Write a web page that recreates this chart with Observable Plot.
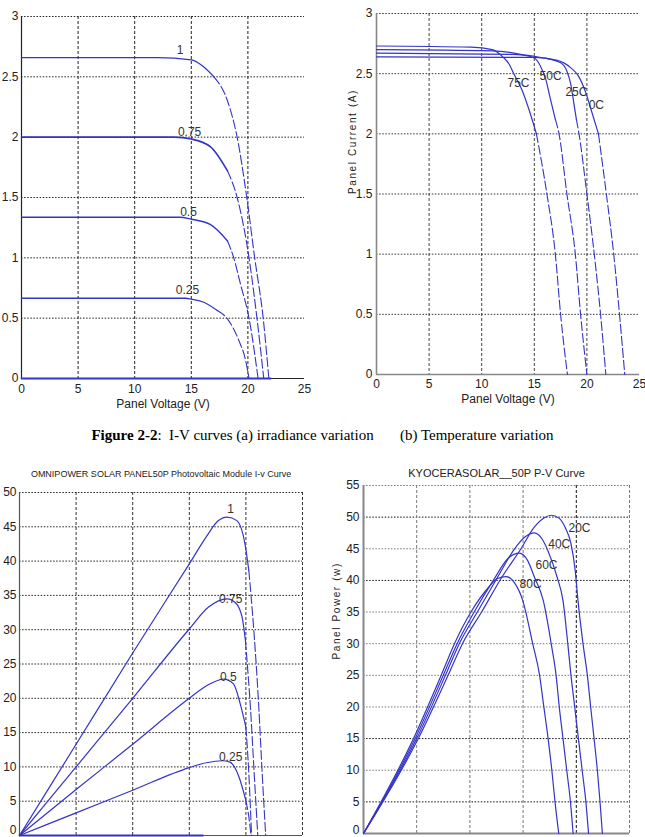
<!DOCTYPE html>
<html><head><meta charset="utf-8">
<script src="https://cdn.jsdelivr.net/npm/d3@7"></script>
<script src="https://cdn.jsdelivr.net/npm/@observablehq/plot@0.6"></script>
<style>
body{margin:0;background:#fff}
#page{position:relative;width:645px;height:837px;overflow:hidden;background:#fff}
.pl{position:absolute}
.cap{position:absolute;left:0;width:645px;top:427px;text-align:center;white-space:pre;
 font-family:"Liberation Serif","Times New Roman",serif;font-size:15px;color:#000}
</style></head>
<body><div id="page"></div>
<script>
// ---------------- data ----------------
const voltageTicks = [0, 5, 10, 15, 20, 25];
const currentTicks = [0, 0.5, 1, 1.5, 2, 2.5, 3];
const powerTicksA = [0, 5, 10, 15, 20, 25, 30, 35, 40, 45, 50];
const powerTicksB = [0, 5, 10, 15, 20, 25, 30, 35, 40, 45, 50, 55];

const irradianceLevels = ["1", "0.75", "0.5", "0.25", "0"];
const temperatureLevelsIV = ["75C", "50C", "25C", "0C"];
const temperatureLevelsPV = ["20C", "40C", "60C", "80C"];

// (a) I-V, irradiance  [V, I]
const ivIrr100 = [[0,2.66],[12,2.66],[15,2.64],[16,2.59],[17,2.5],[18.2,2.3],[19.05,2.0],[19.9,1.5],[20.6,1.0],[21.35,0.5],[21.85,0]];
const ivIrr075 = [[0,2.0],[13.5,2.0],[15,1.985],[16.7,1.92],[18.2,1.72],[19.05,1.5],[20.1,1.0],[20.8,0.5],[21.4,0]];
const ivIrr050 = [[0,1.336],[14,1.336],[15,1.32],[16.7,1.275],[18.2,1.14],[18.75,1.0],[19.35,0.78],[20.1,0.5],[20.9,0]];
const ivIrr025 = [[0,0.665],[14.5,0.665],[15,0.657],[16.1,0.632],[17.3,0.563],[18.3,0.48],[19.2,0.315],[19.8,0.15],[20.1,0]];
const ivIrr000 = [[0,0],[22,0]];
const ivIrrLabelV = [14.0, 14.85, 14.75, 14.66];
const ivIrrLabelI = [2.72, 2.04, 1.38, 0.73];

// (b) I-V, temperature  [V, I]
const ivT75 = [[0,2.73],[9,2.72],[11,2.70],[12,2.64],[12.6,2.58],[13.05,2.5],[13.85,2.36],[14.5,2.2],[15.2,2.0],[16.2,1.5],[17.0,1.0],[17.5,0.5],[18.15,0]];
const ivT50 = [[0,2.70],[11,2.69],[13.7,2.66],[15,2.63],[15.6,2.56],[16.1,2.45],[16.5,2.3],[17.0,2.12],[17.35,2.0],[18.1,1.5],[18.9,1.0],[19.4,0.5],[20.0,0]];
const ivT25 = [[0,2.67],[13,2.66],[15.9,2.63],[17.5,2.59],[18.1,2.52],[18.45,2.42],[18.75,2.26],[19.0,2.12],[19.25,2.0],[20.0,1.5],[20.7,1.0],[21.3,0.5],[21.8,0]];
const ivT0 = [[0,2.64],[15,2.635],[17.2,2.61],[18.45,2.55],[19.2,2.48],[19.9,2.34],[20.4,2.2],[21.1,2.0],[21.85,1.5],[22.55,1.0],[23.1,0.5],[23.6,0]];
const ivTLabelV = [13.5, 16.55, 19.0, 20.9];
const ivTLabelI = [2.42, 2.48, 2.35, 2.24];

// P-V, irradiance  [V, P]
const pvIrr100 = [[0,0],[5,13.3],[10,26.6],[15,39.6],[16.6,43.8],[17.5,45.8],[18.35,46.4],[19.2,45.9],[19.97,42.0],[20.26,38.6],[20.7,29.9],[21.14,18.7],[21.44,9.0],[21.75,0]];
const pvIrr075 = [[0,0],[5,10],[10,20],[15,30.1],[16.7,33.3],[18.35,34.5],[19.1,33.9],[19.67,31.8],[19.96,28.4],[20.1,25.5],[20.4,18.7],[20.7,10],[21.05,0]];
const pvIrr050 = [[0,0],[5,6.7],[10,13.3],[15,20.0],[16.6,21.9],[18.05,22.8],[18.9,22.1],[19.5,19.2],[20.0,15.8],[20.26,9.0],[20.5,0]];
const pvIrr025 = [[0,0],[5,3.3],[10,6.6],[15,9.9],[16.5,10.6],[17.9,10.9],[18.6,10.7],[19.4,8.5],[20.0,5.1],[20.3,2.2],[20.45,0]];
const pvIrr000 = [[0,0],[16.2,0]];
const pvIrrLabelV = [18.65, 18.65, 18.45, 18.65];
const pvIrrLabelP = [47.6, 34.4, 23.1, 11.4];

// P-V, temperature  [V, P]
const pvT20 = [[0,0],[5.15,15],[7.95,25],[9.3,30],[11.1,35],[13.0,40.5],[14.8,45],[16.0,48.3],[17.0,49.9],[17.64,50.3],[18.4,49.8],[19.0,48.2],[19.5,45.8],[19.9,41.5],[20.16,36.8],[20.63,30],[21.04,25],[21.35,20],[21.67,15],[21.98,10],[22.23,5],[22.45,0]];
const pvT40 = [[0,0],[5.0,15],[7.7,25],[9.0,30],[10.7,35],[12.6,40.5],[14.2,45],[15.2,46.9],[16.07,47.5],[16.8,46.5],[17.33,44.7],[18.2,40.5],[18.75,36.8],[19.2,30],[19.5,25],[19.85,20],[20.2,15],[20.55,10],[20.9,5],[21.15,0]];
const pvT60 = [[0,0],[4.85,15],[7.5,25],[8.8,30],[10.4,35],[12.2,40],[13.6,43.5],[14.65,44.3],[15.4,43.2],[16.07,40.5],[16.9,36.8],[17.64,30],[18.1,25],[18.4,20],[18.75,15],[19.1,10],[19.45,5],[19.7,0]];
const pvT80 = [[0,0],[4.7,15],[7.3,25],[8.55,30],[10.1,35],[11.8,39],[12.6,40.3],[13.4,40.6],[14.2,39.6],[14.97,36.8],[15.9,30],[16.55,25],[16.95,20],[17.35,15],[17.7,10],[18.0,5],[18.35,0]];
const pvTLabelV = [20.3, 18.4, 17.2, 15.7];
const pvTLabelP = [48.3, 45.8, 42.4, 39.4];

const captionBold = "Figure 2-2";
const captionRest = ":  I-V curves (a) irradiance variation       (b) Temperature variation";
const titleC = "OMNIPOWER SOLAR PANEL50P Photovoltaic Module I-v Curve";
const titleD = "KYOCERASOLAR__50P P-V Curve";
const xLabel = "Panel Voltage (V)";
const yLabelCurrent = "Panel Current (A)";
const yLabelPower = "Panel Power (w)";

// ---------------- drawing ----------------
const TICKFONT = '"Liberation Sans",Arial,Helvetica,sans-serif';
const SANS = '"Liberation Sans",Arial,sans-serif';
const BLUE = "#3434c8";
const page = document.getElementById("page");

function rows(pairs, key) { return pairs.map(([v, y]) => ({v, y, key})); }

// split a curve into its solid part and its steep (dashed-looking) part
function splitIV(r, frac) {
  const k = r.findIndex(d => d.y < frac * r[0].y);
  if (k < 0) return [r, []];
  return [r.slice(0, k + 1), r.slice(k)];
}
function splitPV(r, frac) {
  let p = 0; r.forEach((d, i) => { if (d.y > r[p].y) p = i; });
  const k = r.findIndex((d, i) => i > p && d.y < frac * r[p].y);
  if (k < 0) return [r, []];
  return [r.slice(0, k + 1), r.slice(k)];
}

function panel(cfg) {
  const labelOf = new Map(cfg.yTicks.map(t => [t, String(t)]));
  const marks = [];
  for (const g of cfg.gridYs) marks.push(Plot.gridY(g.ticks, {stroke: g.color, strokeOpacity: 1, strokeDasharray: "1.5,1.6", strokeWidth: 1}));
  for (const g of cfg.gridXs) marks.push(Plot.gridX(g.ticks, {stroke: g.color, strokeOpacity: 1, strokeDasharray: "3,2", strokeWidth: 1}));
  marks.push(Plot.ruleX([0], {stroke: cfg.axisColor, strokeWidth: cfg.axisWidth}));
  marks.push(Plot.ruleY([0], {stroke: cfg.axisColor, strokeWidth: cfg.axisWidth}));
  const upper = cfg.bottomEdge ? cfg.yTicks.filter(t => t !== 0) : cfg.yTicks;
  marks.push(Plot.axisY(upper, {tickSize: 0, tickPadding: cfg.yPad, tickFormat: d => labelOf.get(d), label: null, fontSize: 12, fontFamily: TICKFONT}));
  if (cfg.bottomEdge) {
    // the zero label sits right on the page's lower edge: anchor it by its bottom so it stays whole
    marks.push(Plot.text([0], {x: 0, y: d => d, text: d => labelOf.get(d), textAnchor: "end", lineAnchor: "bottom", dx: -cfg.yPad, dy: Math.min(0, cfg.m[2] - 4), fontSize: 12, fontFamily: TICKFONT, fill: "#222"}));
  }
  if (cfg.xTicks) marks.push(Plot.axisX(cfg.xTicks, {tickSize: 0, tickPadding: cfg.xPad, tickFormat: d => String(d), label: null, fontSize: 12, fontFamily: TICKFONT}));
  for (const s of cfg.series) {
    const [solid, dashed] = s.split ? s.split(s.rows) : [s.rows, []];
    marks.push(Plot.line(solid, {x: "v", y: "y", stroke: BLUE, strokeWidth: s.width || 1.2, curve: "monotone-x"}));
    if (dashed.length) marks.push(Plot.line(dashed, {x: "v", y: "y", stroke: BLUE, strokeWidth: 1.1, strokeDasharray: "9,3", curve: "monotone-x"}));
  }
  marks.push(Plot.text(cfg.labels, {x: "v", y: "y", text: "t", fontSize: 12, fill: "#333", fontFamily: TICKFONT}));
  if (cfg.xLabel) marks.push(Plot.text([cfg.xLabel], {frameAnchor: "bottom", dy: cfg.xLabelDy, text: d => d, fontSize: 12, fontFamily: TICKFONT, fill: "#222"}));
  if (cfg.yLabel) marks.push(Plot.text([cfg.yLabel], {frameAnchor: "left", dx: cfg.yLabelDx, rotate: -90, text: d => d, fontSize: 10, fontFamily: SANS, fill: "#222"}));
  if (cfg.title) marks.push(Plot.text([cfg.title], {frameAnchor: "top", dy: cfg.titleDy, text: d => d, fontSize: cfg.titleSize, fontFamily: TICKFONT, fill: "#222"}));
  const svg = Plot.plot({
    width: cfg.width, height: cfg.height,
    marginLeft: cfg.m[3], marginRight: cfg.m[1], marginTop: cfg.m[0], marginBottom: cfg.m[2],
    x: {domain: [0, 25], axis: null},
    y: {domain: cfg.yDomain, axis: null},
    style: {background: "transparent", color: "#222", fontFamily: TICKFONT, fontSize: "12px", overflow: "visible"},
    marks
  });
  svg.classList.add("pl");
  svg.style.left = cfg.left + "px";
  svg.style.top = cfg.top + "px";
  svg.style.position = "absolute";
  if (cfg.yLabel) d3.select(svg).selectAll("text").filter(function(){ return this.textContent === cfg.yLabel; }).attr("letter-spacing", "1.6px");
  page.appendChild(svg);
}

const labelRows = (names, vs, ys) => names.map((t, i) => ({t, v: vs[i], y: ys[i]}));

// (a)
panel({
  left: 0, top: 0, width: 330, height: 420, m: [16, 26, 42, 21],
  yDomain: [0, 3], yTicks: currentTicks, xTicks: voltageTicks, yPad: 3, xPad: 6,
  gridYs: [{ticks: currentTicks.slice(1), color: "#222"}],
  gridXs: [{ticks: [5, 10, 15, 20], color: "#222"}],
  axisColor: "#222", axisWidth: 1.2,
  series: [
    {rows: rows(ivIrr100, "1"), split: r => splitIV(r, 0.94), width: 1.3},
    {rows: rows(ivIrr075, "0.75"), split: r => splitIV(r, 0.94), width: 1.6},
    {rows: rows(ivIrr050, "0.5"), split: r => splitIV(r, 0.94), width: 1.4},
    {rows: rows(ivIrr025, "0.25"), split: r => splitIV(r, 0.94), width: 1.3},
    {rows: rows(ivIrr000, "0"), width: 1.8}
  ],
  labels: labelRows(irradianceLevels.slice(0, 4), ivIrrLabelV, ivIrrLabelI),
  xLabel: xLabel, xLabelDy: 29
});

// (b)
panel({
  left: 300, top: 0, width: 345, height: 420, m: [13, 6, 46, 76],
  yDomain: [0, 3], yTicks: currentTicks, xTicks: voltageTicks, yPad: 4, xPad: 5,
  gridYs: [{ticks: currentTicks.slice(1), color: "#333"}],
  gridXs: [{ticks: [5, 10, 15, 20], color: "#444"}],
  axisColor: "#888", axisWidth: 1.6,
  series: [
    {rows: rows(ivT75, "75C"), split: r => splitIV(r, 0.8)},
    {rows: rows(ivT50, "50C"), split: r => splitIV(r, 0.8)},
    {rows: rows(ivT25, "25C"), split: r => splitIV(r, 0.8)},
    {rows: rows(ivT0, "0C"), split: r => splitIV(r, 0.8)}
  ],
  labels: labelRows(temperatureLevelsIV, ivTLabelV, ivTLabelI),
  xLabel: xLabel, xLabelDy: 28,
  yLabel: yLabelCurrent, yLabelDx: -24
});

// (c)
panel({
  left: 0, top: 450, width: 330, height: 387, m: [42, 28, 2, 19],
  yDomain: [0, 50], yTicks: powerTicksA, xTicks: null, yPad: 3, bottomEdge: true,
  gridYs: [{ticks: powerTicksA.slice(1), color: "#222"}],
  gridXs: [{ticks: [5, 10, 15, 20, 25], color: "#333"}],
  axisColor: "#555", axisWidth: 1.2,
  series: [
    {rows: rows(pvIrr100, "1"), split: r => splitPV(r, 0.88)},
    {rows: rows(pvIrr075, "0.75"), split: r => splitPV(r, 0.88)},
    {rows: rows(pvIrr050, "0.5"), split: r => splitPV(r, 0.7)},
    {rows: rows(pvIrr025, "0.25"), split: r => splitPV(r, 0.7)},
    {rows: rows(pvIrr000, "0"), width: 1.8}
  ],
  labels: labelRows(irradianceLevels.slice(0, 4), pvIrrLabelV, pvIrrLabelP),
  title: titleC, titleDy: -22, titleSize: 9
});

// (d)
panel({
  left: 330, top: 450, width: 315, height: 387, m: [35, 16, 4, 33],
  yDomain: [0, 55], yTicks: powerTicksB, xTicks: null, yPad: 4, bottomEdge: true,
  gridYs: [{ticks: [10, 20, 25, 30, 35, 45, 55], color: "#777"}, {ticks: [5, 15, 40, 50], color: "#111"}],
  gridXs: [{ticks: [5, 10, 15, 25], color: "#777"}, {ticks: [20], color: "#111"}],
  axisColor: "#888", axisWidth: 2,
  series: [
    {rows: rows(pvT20, "20C")},
    {rows: rows(pvT40, "40C")},
    {rows: rows(pvT60, "60C")},
    {rows: rows(pvT80, "80C")}
  ],
  labels: labelRows(temperatureLevelsPV, pvTLabelV, pvTLabelP),
  yLabel: yLabelPower, yLabelDx: -27,
  title: titleD, titleDy: -16, titleSize: 11
});

const cap = document.createElement("div");
cap.className = "cap";
const b = document.createElement("b"); b.textContent = captionBold;
cap.appendChild(b);
cap.appendChild(document.createTextNode(captionRest));
page.appendChild(cap);
</script>
</body></html>
